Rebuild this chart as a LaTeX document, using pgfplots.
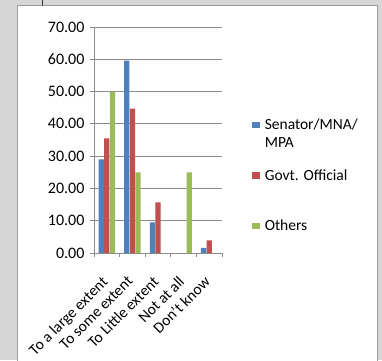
\documentclass[border=0pt]{standalone}
\usepackage{pgfplots}
\pgfplotsset{compat=1.18}
\usepackage{fontspec}
\setmainfont{Carlito}

\definecolor{sen}{HTML}{4F81BD}
\definecolor{gov}{HTML}{C0504D}
\definecolor{oth}{HTML}{9BBB59}
\definecolor{bg}{HTML}{D6D6D6}
\definecolor{frame}{HTML}{9C9C9C}
\definecolor{gridc}{HTML}{8C8C8C}

\newcommand{\lbl}{\fontsize{15.5}{17.5}\selectfont}
\newcommand{\entry}[2]{\begin{tabular}[t]{@{}l@{}}#1\\#2\end{tabular}}

\begin{document}
\begin{tikzpicture}
\useasboundingbox (0pt,0pt) rectangle (382pt,360pt);
\fill[bg] (0pt,0pt) rectangle (382pt,360pt);
\filldraw[fill=white, draw=frame, line width=1pt] (17.5pt,-2pt) rectangle (377.5pt,354.5pt);
\draw[black!80, line width=0.8pt] (42.7pt,354.5pt) -- (42.7pt,360pt);

\begin{axis}[
    at={(94pt,107pt)}, anchor=south west,
    scale only axis, width=128pt, height=226pt,
    xmin=-0.5, xmax=4.5, ymin=0, ymax=70,
    axis x line*=bottom, axis y line*=left,
    axis line style={gridc, line width=0.8pt},
    ybar=0.3pt, bar width=5.3pt,
    ytick={0,10,...,70},
    ymajorgrids, grid style={gridc, line width=0.8pt},
    tick align=outside, major tick length=4pt, minor tick length=4pt,
    tick style={gridc, line width=0.8pt},
    /pgf/number format/fixed, /pgf/number format/fixed zerofill,
    /pgf/number format/precision=2, /pgf/number format/assume math mode=true,
    yticklabel style={font=\fontsize{16}{18}\selectfont, xshift=-2pt},
    xtick={0,...,4},
    major x tick style={draw=none},
    minor xtick={-0.5,0.5,...,4.5},
    xticklabels={To a large extent, To some extent, To Little extent, Not at all, Don't know},
    xticklabel style={font=\lbl, inner sep=0pt, yshift=-18pt, xshift=-6pt, rotate=45, anchor=north east},
    legend image code/.code={\fill[#1, draw=none] (0pt,1.5pt) rectangle (7.4pt,8pt); \path (10.5pt,4pt);},
    legend style={draw=none, fill=none, inner sep=0pt, at={(1.235,0.608)}, anchor=north west,
        font=\lbl, row sep=10.5pt, nodes={inner sep=2pt, text height=12pt, text depth=24pt},
        cells={anchor=base west}},
]
\addplot[fill=sen, draw=none] coordinates {(0,29.0) (1,59.6) (2,9.5) (3,0) (4,1.6)};
\addlegendentry{\entry{Senator/MNA/}{MPA}}
\addplot[fill=gov, draw=none] coordinates {(0,35.5) (1,44.7) (2,15.7) (3,0) (4,3.9)};
\addlegendentry{\entry{Govt. Official}{~}}
\addplot[fill=oth, draw=none] coordinates {(0,50) (1,25) (2,0) (3,25) (4,0)};
\addlegendentry{\entry{Others}{~}}
\end{axis}
\end{tikzpicture}
\end{document}
